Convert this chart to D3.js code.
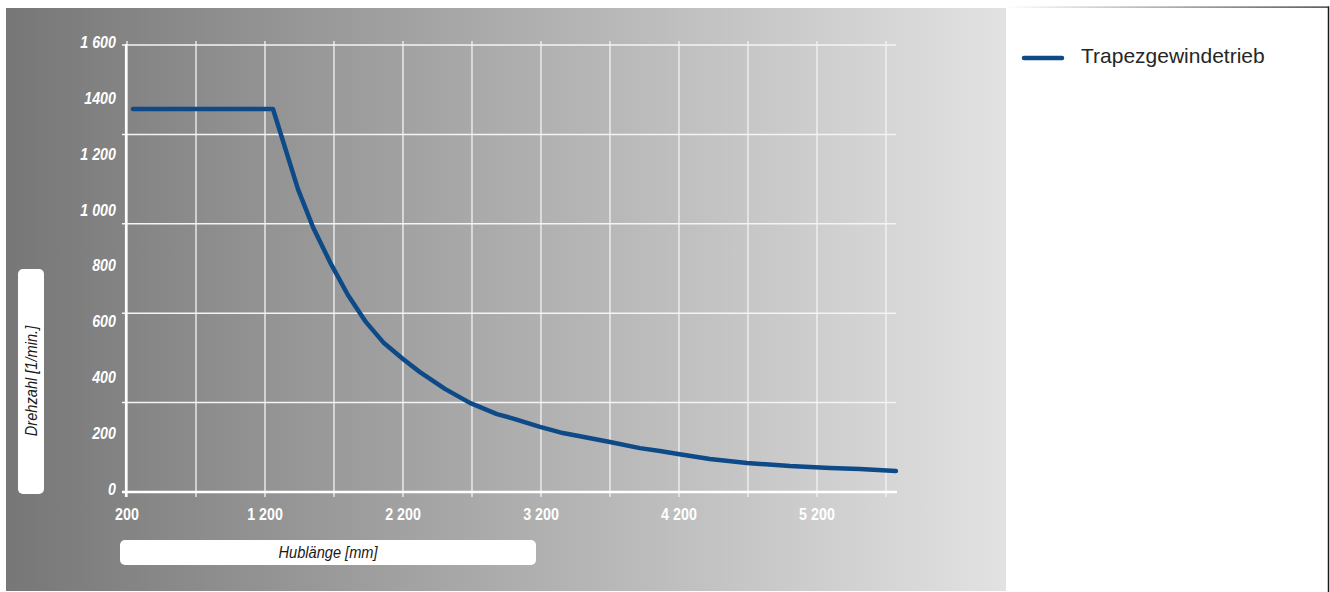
<!DOCTYPE html>
<html>
<head>
<meta charset="utf-8">
<script src="https://cdn.jsdelivr.net/npm/d3@7"></script>
<style>
  html, body { margin: 0; padding: 0; background: #fff; }
  svg { display: block; }
</style>
</head>
<body>
<svg id="chart" width="1330" height="592"></svg>
<script>
// Hublänge [mm] vs. Drehzahl [1/min.] for the Trapezgewindetrieb
const strokeLength = [243, 1258, 1439, 1548, 1671, 1801, 1932, 2062, 2200, 2323, 2504, 2685, 2881, 3011, 3193, 3359, 3700, 3917, 4062, 4193, 4424, 4693, 5004, 5294, 5511, 5772];
const speed        = [1371, 1371, 1084, 948, 823, 705, 608, 533, 476, 429, 369, 319, 279, 261, 233, 211, 179, 157, 147, 136, 118, 104, 93, 86, 82, 75];

const xTickValues = [200, 1200, 2200, 3200, 4200, 5200];
const xTickLabels = ["200", "1 200", "2 200", "3 200", "4 200", "5 200"];
const xGridValues = [200, 700, 1200, 1700, 2200, 2700, 3200, 3700, 4200, 4700, 5200, 5700];
const yTickValues = [0, 200, 400, 600, 800, 1000, 1200, 1400, 1600];
const yTickLabels = ["0", "200", "400", "600", "800", "1 000", "1 200", "1400", "1 600"];
const yGridValues = [320, 640, 960, 1280, 1600];

const seriesName = "Trapezgewindetrieb";
const xTitle = "Hublänge [mm]";
const yTitle = "Drehzahl [1/min.]";

const svg = d3.select("#chart");
const defs = svg.append("defs");

const bg = defs.append("linearGradient").attr("id", "panelGrad")
  .attr("x1", "0%").attr("x2", "100%").attr("y1", "0%").attr("y2", "0%");
bg.append("stop").attr("offset", "0%").attr("stop-color", "#777777");
bg.append("stop").attr("offset", "100%").attr("stop-color", "#e2e2e2");

const topBorder = defs.append("linearGradient").attr("id", "borderGrad")
  .attr("x1", "0%").attr("x2", "100%").attr("y1", "0%").attr("y2", "0%");
topBorder.append("stop").attr("offset", "0%").attr("stop-color", "#ffffff");
topBorder.append("stop").attr("offset", "100%").attr("stop-color", "#1a1a1a");

// grey plotting panel
svg.append("rect").attr("x", 6).attr("y", 8).attr("width", 1000).attr("height", 583)
  .attr("fill", "url(#panelGrad)");

// legend panel borders
svg.append("rect").attr("x", 1006).attr("y", 6.5).attr("width", 323).attr("height", 1.2)
  .attr("fill", "url(#borderGrad)");
svg.append("line").attr("x1", 1328.5).attr("x2", 1328.5).attr("y1", 6.5).attr("y2", 592)
  .attr("stroke", "#1a1a1a").attr("stroke-width", 1.5);

const x = d3.scaleLinear().domain([200, 5780]).range([127, 897]);
const y = d3.scaleLinear().domain([0, 1600]).range([492, 45]);

const grid = svg.append("g");
// vertical grid lines
grid.selectAll("line.v").data(xGridValues).join("line").attr("class", "v")
  .attr("x1", d => x(d)).attr("x2", d => x(d))
  .attr("y1", y(1600) - 4).attr("y2", y(0) + 5)
  .attr("stroke", "#f4f4f4").attr("stroke-width", 1.3);
// horizontal grid lines
grid.selectAll("line.h").data(yGridValues).join("line").attr("class", "h")
  .attr("x1", x(200) - 5).attr("x2", x(5780) - 1)
  .attr("y1", d => y(d)).attr("y2", d => y(d))
  .attr("stroke", "#f4f4f4").attr("stroke-width", 1.5);

// axis lines
svg.append("line").attr("x1", x(200) - 1).attr("x2", x(200) - 1)
  .attr("y1", y(1600) - 1).attr("y2", y(0) + 5)
  .attr("stroke", "#ffffff").attr("stroke-width", 2.2);
svg.append("line").attr("x1", x(200) - 5).attr("x2", x(5780))
  .attr("y1", y(0)).attr("y2", y(0))
  .attr("stroke", "#ffffff").attr("stroke-width", 2.6);

const labelFont = "'Liberation Sans', Arial, sans-serif";
const squeeze = 0.84;

// y tick labels
svg.append("g").selectAll("text").data(yTickValues).join("text")
  .attr("transform", d => `translate(116,${y(d) - 3}) scale(${squeeze},1)`)
  .attr("dy", "0.35em")
  .attr("text-anchor", "end")
  .attr("font-family", labelFont).attr("font-weight", "bold").attr("font-style", "italic")
  .attr("font-size", 17).attr("fill", "#ffffff")
  .text((d, i) => yTickLabels[i]);

// x tick labels
svg.append("g").selectAll("text").data(xTickValues).join("text")
  .attr("transform", d => `translate(${x(d)},514) scale(${squeeze},1)`)
  .attr("dy", "0.35em")
  .attr("text-anchor", "middle")
  .attr("font-family", labelFont).attr("font-weight", "bold")
  .attr("font-size", 17).attr("fill", "#ffffff")
  .text((d, i) => xTickLabels[i]);

// axis title boxes
svg.append("rect").attr("x", 120).attr("y", 540).attr("width", 416).attr("height", 25)
  .attr("rx", 5).attr("fill", "#ffffff");
svg.append("text")
  .attr("transform", `translate(328,552.5) scale(0.86,1)`)
  .attr("dy", "0.35em")
  .attr("text-anchor", "middle")
  .attr("font-family", labelFont).attr("font-style", "italic")
  .attr("font-size", 17).attr("fill", "#1a1a1a")
  .text(xTitle);

svg.append("rect").attr("x", 18).attr("y", 269).attr("width", 26).attr("height", 225)
  .attr("rx", 5).attr("fill", "#ffffff");
svg.append("text")
  .attr("transform", "translate(31,381) rotate(-90) scale(0.86,1)")
  .attr("dy", "0.35em")
  .attr("text-anchor", "middle")
  .attr("font-family", labelFont).attr("font-style", "italic")
  .attr("font-size", 17).attr("fill", "#1a1a1a")
  .text(yTitle);

// series curve
const line = d3.line().x((d, i) => x(strokeLength[i])).y(d => y(d));
svg.append("path").datum(speed)
  .attr("d", line)
  .attr("fill", "none")
  .attr("stroke", "#0e4a87")
  .attr("stroke-width", 4.5)
  .attr("stroke-linejoin", "round")
  .attr("stroke-linecap", "round");

// legend
const legend = svg.append("g").attr("transform", "translate(1024,58)");
legend.append("line").attr("x1", 0).attr("x2", 38).attr("y1", 0).attr("y2", 0)
  .attr("stroke", "#0e4a87").attr("stroke-width", 4.5).attr("stroke-linecap", "round");
legend.append("text").attr("x", 57).attr("y", -2).attr("dy", "0.35em")
  .attr("font-family", "'Liberation Sans', Arial, sans-serif")
  .attr("font-size", 21).attr("fill", "#262626")
  .text(seriesName);
</script>
</body>
</html>
